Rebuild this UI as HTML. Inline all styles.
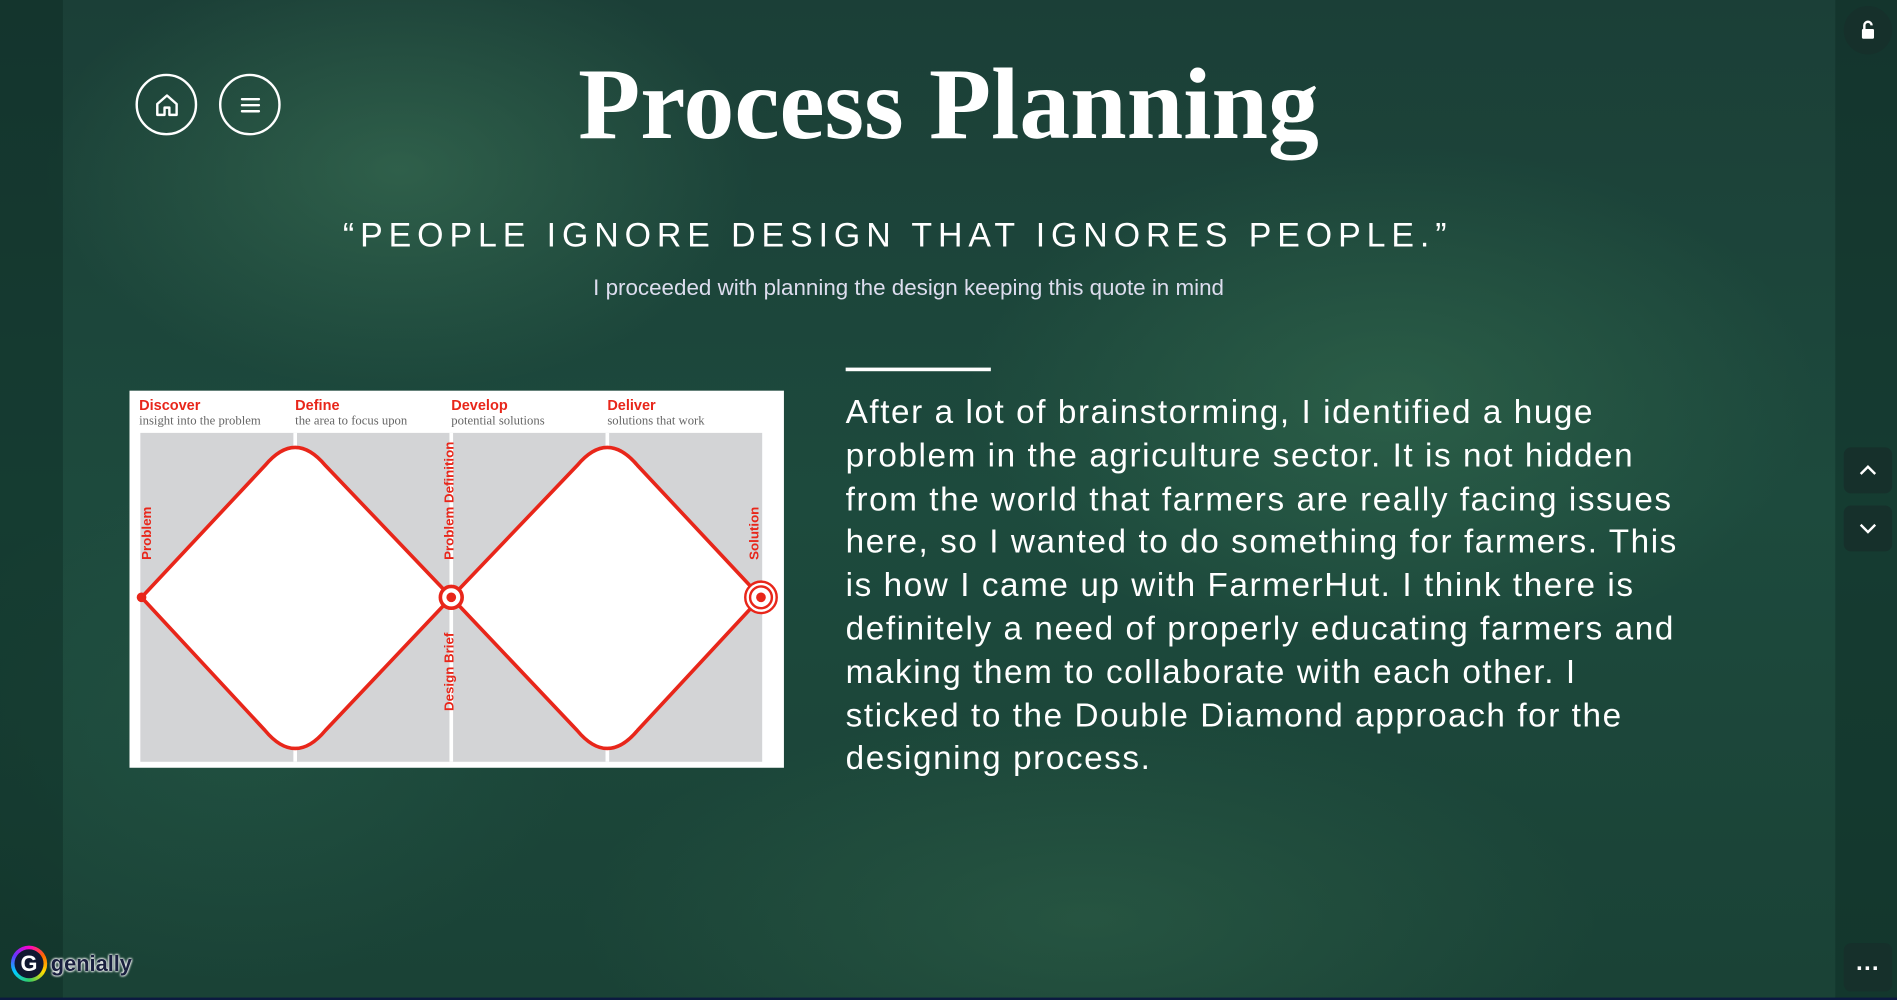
<!DOCTYPE html>
<html><head><meta charset="utf-8"><style>
html,body{margin:0;padding:0;width:1897px;height:1000px;overflow:hidden;background:#173a31}
#w{position:absolute;left:0;top:0;width:1568px;height:827px;transform:scale(1.20982,1.20919);transform-origin:0 0;
background:
radial-gradient(ellipse 420px 260px at 330px 140px,rgba(70,130,95,.45),transparent 70%),
radial-gradient(ellipse 500px 300px at 1150px 330px,rgba(60,120,85,.45),transparent 70%),
radial-gradient(ellipse 600px 250px at 900px 760px,rgba(55,110,80,.4),transparent 70%),
radial-gradient(ellipse 400px 300px at 200px 600px,rgba(40,95,75,.4),transparent 70%),
linear-gradient(180deg,#1b3f37 0%,#1d4a3d 50%,#1a4236 100%);
font-family:"Liberation Sans",sans-serif;color:#fff;overflow:hidden}
.strip{position:absolute;top:0;height:827px;background:rgba(10,35,30,.35)}
.circ{position:absolute;width:47px;height:47px;border:2px solid #fff;border-radius:50%;display:flex;align-items:center;justify-content:center}
.btn{position:absolute;left:1524px;width:40px;height:38px;border-radius:6px;background:#16302b;display:flex;align-items:center;justify-content:center}
</style></head><body>
<div id="w">
<div class="strip" style="left:0;width:52px"></div>
<div class="strip" style="left:1517px;width:51px"></div>
<div class="circ" style="left:112px;top:61px">
<svg width="24" height="24" viewBox="0 0 24 24"><path d="M4 11 L12 4 L20 11 V20 H14 V14 H10 V20 H4 Z" fill="none" stroke="#fff" stroke-width="2" stroke-linejoin="round"/></svg></div>
<div class="circ" style="left:181px;top:61px">
<svg width="20" height="16" viewBox="0 0 20 16"><path d="M3 3H17M3 8H17M3 13H17" stroke="#fff" stroke-width="2" stroke-linecap="round"/></svg></div>
<div style="position:absolute;left:0;width:1568px;top:42px;text-align:center;font-family:'Liberation Serif',serif;font-weight:bold;font-size:84px;line-height:90px">Process Planning</div>
<div style="position:absolute;left:0;width:1484px;top:179px;text-align:center;font-size:28px;letter-spacing:4.9px">“PEOPLE IGNORE DESIGN THAT IGNORES PEOPLE.”</div>
<div style="position:absolute;left:0;width:1502px;top:227px;text-align:center;font-size:18.5px;color:#dde">I proceeded with planning the design keeping this quote in mind</div>
<div style="position:absolute;left:699px;top:304px;width:120px;height:3px;background:#fff"></div>
<div style="position:absolute;left:699px;top:323px;width:700px;font-size:27.5px;line-height:35.8px;letter-spacing:1.3px">After a lot of brainstorming, I identified a huge problem in the agriculture sector. It is not hidden from the world that farmers are really facing issues here, so I wanted to do something for farmers. This is how I came up with FarmerHut. I think there is definitely a need of properly educating farmers and making them to collaborate with each other. I sticked to the Double Diamond approach for the designing process.</div>
<svg style="position:absolute;left:107px;top:323px" width="541" height="312" viewBox="0 0 541 312">
<rect width="541" height="312" fill="#fff"/>
<rect x="9" y="35" width="514" height="272" fill="#d3d4d6"/>
<g stroke="#fff" stroke-width="3"><line x1="137" y1="35" x2="137" y2="307"/><line x1="266" y1="35" x2="266" y2="307"/><line x1="395" y1="35" x2="395" y2="307"/></g>
<g fill="#fff" stroke="#e8261a" stroke-width="3">
<path d="M10 171 L112 62 Q137 32 162 62 L266 171 L162 281 Q137 311 112 281 Z"/>
<path d="M266 171 L370 62 Q395 32 420 62 L522 171 L420 281 Q395 311 370 281 Z"/>
</g>
<circle cx="10" cy="171" r="4" fill="#e8261a"/>
<circle cx="266" cy="171" r="9" fill="#fff" stroke="#e8261a" stroke-width="3"/><circle cx="266" cy="171" r="4" fill="#e8261a"/>
<circle cx="522" cy="171" r="13" fill="#fff" stroke="#e8261a" stroke-width="2"/><circle cx="522" cy="171" r="9" fill="none" stroke="#e8261a" stroke-width="2"/><circle cx="522" cy="171" r="4" fill="#e8261a"/>
<g font-family="Liberation Sans" font-weight="bold" font-size="12" fill="#e8261a">
<text x="8" y="16">Discover</text><text x="137" y="16">Define</text><text x="266" y="16">Develop</text><text x="395" y="16">Deliver</text>
<text transform="translate(18,140) rotate(-90)" font-size="11">Problem</text>
<text transform="translate(268,140) rotate(-90)" font-size="11">Problem Definition</text>
<text transform="translate(268,265) rotate(-90)" font-size="11">Design Brief</text>
<text transform="translate(520,140) rotate(-90)" font-size="11">Solution</text>
</g>
<g font-family="Liberation Serif" font-size="10.5" fill="#666">
<text x="8" y="28">insight into the problem</text><text x="137" y="28">the area to focus upon</text><text x="266" y="28">potential solutions</text><text x="395" y="28">solutions that work</text>
</g>
</svg>
<div style="position:absolute;left:1524px;top:5px;width:40px;height:40px;border-radius:50%;background:#16302b;display:flex;align-items:center;justify-content:center">
<svg width="20" height="20" viewBox="0 0 20 20"><rect x="5" y="9" width="10" height="8" rx="1" fill="#fff"/><path d="M7 9V6a3 3 0 0 1 6 0" fill="none" stroke="#fff" stroke-width="2"/></svg></div>
<div class="btn" style="top:370px"><svg width="16" height="10"><path d="M2 8L8 2L14 8" fill="none" stroke="#fff" stroke-width="2"/></svg></div>
<div class="btn" style="top:418px"><svg width="16" height="10"><path d="M2 2L8 8L14 2" fill="none" stroke="#fff" stroke-width="2"/></svg></div>
<div class="btn" style="top:780px;height:40px"><span style="font-size:20px;font-weight:bold;letter-spacing:1px;margin-top:-8px">...</span></div>
<div style="position:absolute;left:9px;top:782px;display:flex;align-items:center">
<div style="width:30px;height:30px;border-radius:50%;background:conic-gradient(#f0c,#f60,#fd0,#3c6,#0cf,#63f,#f0c);display:flex;align-items:center;justify-content:center"><div style="width:24px;height:24px;border-radius:50%;background:#101830;color:#fff;font-weight:bold;font-size:18px;text-align:center;line-height:24px">G</div></div>
<span style="font-weight:bold;font-size:18px;color:#1a2040;margin-left:3px;text-shadow:0 0 2px #fff,0 0 2px #fff,0 0 2px #fff">genially</span></div>
<div style="position:absolute;left:0;top:825px;width:1568px;height:2px;background:#0b1a40"></div>
</div>
</body></html>
